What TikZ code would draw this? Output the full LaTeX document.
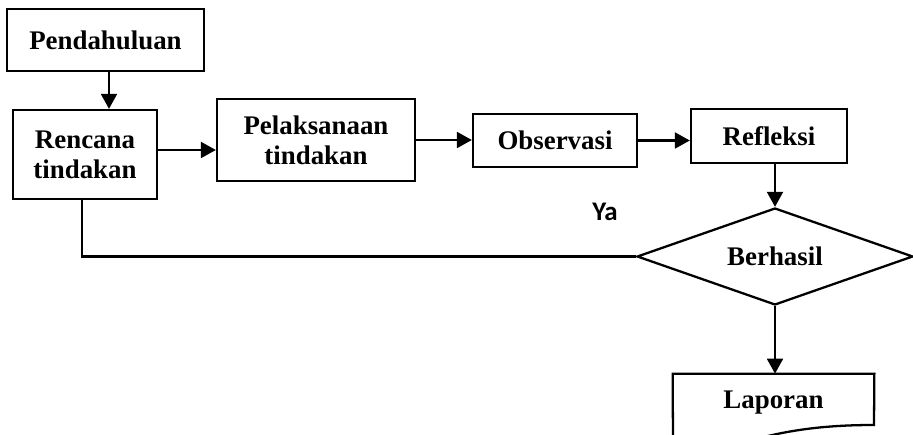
\documentclass[tikz,border=0pt]{standalone}
\usepackage{fontspec}
\setmainfont{Liberation Serif}
\newfontfamily\yafont{Carlito}
\usetikzlibrary{arrows.meta,shapes.geometric}
\def\pxu{0.02cm}
\tikzset{
  box/.style={draw, line width=1.3pt, rectangle, inner sep=0pt, align=center,
    font=\fontsize{15.3}{17}\selectfont\bfseries},
  dec/.style={draw, line width=1.3pt, diamond, inner sep=0pt, aspect=2.85,
    font=\fontsize{15.3}{17}\selectfont\bfseries},
  plain/.style={inner sep=0pt, align=center, font=\fontsize{15.3}{17}\selectfont\bfseries},
  conn/.style={line width=1.4pt},
  arr/.style={conn, -{Triangle[length=8.5pt,width=9pt]}},
}
\begin{document}
\begin{tikzpicture}[x=0.02cm, y=-0.02cm]
\useasboundingbox (0,0) rectangle (913,435);
\node[box, minimum width=197*\pxu, minimum height=62*\pxu] (pend) at (105.5,40) {Pendahuluan};
\node[box, minimum width=144*\pxu, minimum height=89*\pxu] (renc) at (85,154.5) {Rencana\\tindakan};
\node[box, minimum width=198*\pxu, minimum height=82*\pxu] (pel) at (316,140) {Pelaksanaan\\tindakan};
\node[box, minimum width=164*\pxu, minimum height=53*\pxu] (obs) at (555,140.5) {Observasi};
\node[box, minimum width=156*\pxu, minimum height=54*\pxu] (ref) at (769,136) {Refleksi};
\node[dec, minimum width=276*\pxu, minimum height=97*\pxu] (ber) at (775,256.5) {Berhasil};
\node[plain, font=\fontsize{15.3}{17}\selectfont\bfseries\yafont] (ya) at (605,212) {Ya};
\node[plain, minimum width=201*\pxu, minimum height=58*\pxu] (lap) at (773.5,403) {Laporan};
% document outline of Laporan
\draw[line width=1.3pt] (673,440) -- (lap.north west) -- (lap.north east) -- (874,425)
  .. controls (830,425) and (795,429) .. (760,438);
\coordinate (c1) at (109,0);
\coordinate (c2) at (0,150);
\coordinate (c3) at (82,0);
\coordinate (c4) at (0,140);
\draw[arr] (pend.south -| c1) -- (renc.north -| c1);
\draw[arr] (renc.east |- c2) -- (pel.west |- c2);
\draw[arr] (pel.east |- c4) -- (obs.west |- c4);
\draw[arr] (obs.east) -- (ref.west |- obs.east);
\draw[arr] (ref.south -| ber.north) -- (ber.north);
\draw[conn] (renc.south -| c3) -- (ber.west -| c3) -- (ber.west);
\draw[arr] (ber.south) -- (ber.south |- lap.north);
\end{tikzpicture}
\end{document}
